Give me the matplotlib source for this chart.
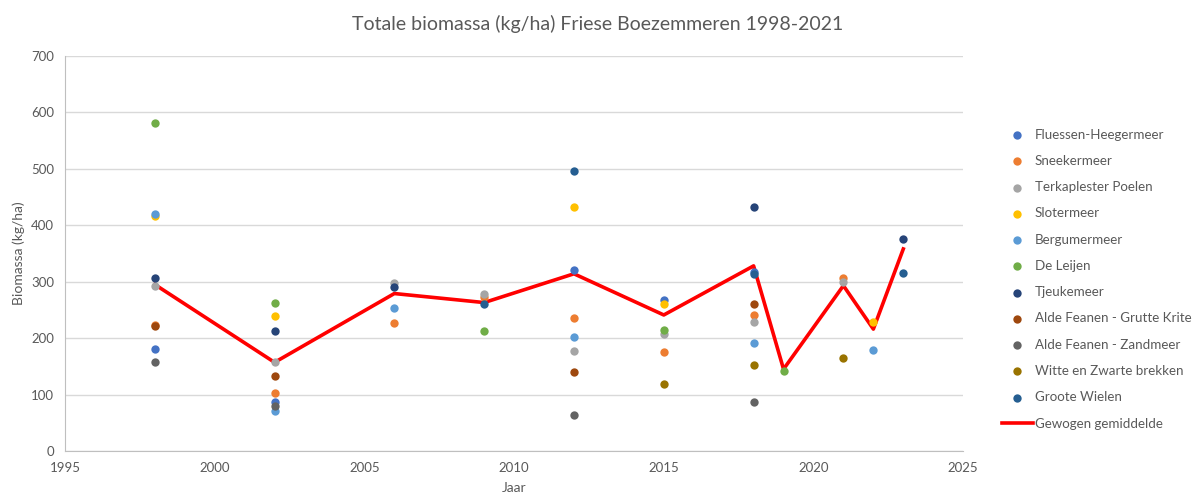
import matplotlib.pyplot as plt
import numpy as np

lakes = [
    "Fluessen-Heegermeer", "Sneekermeer", "Terkaplester Poelen", "Slotermeer",
    "Bergumermeer", "De Leijen", "Tjeukemeer", "Alde Feanen - Grutte Krite",
    "Alde Feanen - Zandmeer", "Witte en Zwarte brekken", "Groote Wielen",
]
colors = [
    "#4472C4", "#ED7D31", "#A5A5A5", "#FFC000", "#5B9BD5", "#70AD47",
    "#264478", "#9E480E", "#636363", "#997300", "#255E91",
]

fluessen_x = [1998, 2002, 2012, 2015, 2018]
fluessen_y = [181, 87, 321, 268, 318]
sneek_x = [1998, 2002, 2006, 2009, 2012, 2015, 2018, 2021]
sneek_y = [224, 102, 227, 273, 235, 175, 241, 306]
terkaple_x = [1998, 2002, 2006, 2009, 2012, 2015, 2018, 2021]
terkaple_y = [292, 157, 297, 278, 177, 208, 229, 299]
sloter_x = [1998, 2002, 2012, 2015, 2022]
sloter_y = [417, 239, 432, 261, 229]
bergum_x = [1998, 2002, 2006, 2012, 2018, 2022]
bergum_y = [420, 70, 254, 202, 192, 179]
leijen_x = [1998, 2002, 2009, 2015, 2019]
leijen_y = [582, 262, 212, 214, 142]
tjeuke_x = [1998, 2002, 2006, 2018, 2023]
tjeuke_y = [307, 213, 291, 432, 375]
grutte_x = [1998, 2002, 2012, 2018]
grutte_y = [221, 132, 140, 261]
zandmeer_x = [1998, 2002, 2012, 2018]
zandmeer_y = [157, 80, 64, 87]
witte_x = [2015, 2018, 2021]
witte_y = [119, 152, 165]
groote_x = [2009, 2012, 2018, 2023]
groote_y = [260, 496, 313, 316]

series_x = [fluessen_x, sneek_x, terkaple_x, sloter_x, bergum_x, leijen_x,
            tjeuke_x, grutte_x, zandmeer_x, witte_x, groote_x]
series_y = [fluessen_y, sneek_y, terkaple_y, sloter_y, bergum_y, leijen_y,
            tjeuke_y, grutte_y, zandmeer_y, witte_y, groote_y]

# gewogen gemiddelde
mean_x = [1998, 2002, 2006, 2009, 2012, 2015, 2018, 2019, 2021, 2022, 2023]
mean_y = [295, 157, 279, 263, 314, 241, 328, 145, 293, 216, 358]

plt.rcParams['font.family'] = ['Lato', 'DejaVu Sans']
txt = "#595959"

fig = plt.figure(figsize=(11.95, 4.97), dpi=100)
ax = fig.add_axes([0.0544, 0.0926, 0.7516, 0.7948])

ax.plot(mean_x, mean_y, color="#FF0000", lw=2.6, zorder=2, label="Gewogen gemiddelde")
for name, c, xs, ys in zip(lakes, colors, series_x, series_y):
    ax.scatter(xs, ys, s=36, color=c, zorder=3, label=name, linewidths=0)

ax.set_xlim(1995, 2025)
ax.set_ylim(0, 700)
ax.set_xticks(np.arange(1995, 2026, 5))
ax.set_yticks(np.arange(0, 701, 100))
ax.yaxis.grid(True, color="#D9D9D9", lw=1)
ax.set_axisbelow(True)
ax.tick_params(length=0, labelsize=9.5, colors=txt, pad=8)
for s in ["top", "right"]:
    ax.spines[s].set_visible(False)
for s in ["left", "bottom"]:
    ax.spines[s].set_color("#BFBFBF")

ax.set_xlabel("Jaar", fontsize=10, color=txt, labelpad=6)
ax.set_ylabel("Biomassa (kg/ha)", fontsize=10, color=txt, labelpad=4)
fig.suptitle("Totale biomassa (kg/ha) Friese Boezemmeren 1998-2021",
             fontsize=14, color=txt, y=0.97)

handles, labels = ax.get_legend_handles_labels()
handles = handles[1:] + handles[:1]
labels = labels[1:] + labels[:1]
leg = fig.legend(handles, labels, loc="upper left", bbox_to_anchor=(0.834, 0.752),
                 frameon=False, fontsize=9.6, labelspacing=1.07, handlelength=2.3,
                 handletextpad=0.15, borderaxespad=0)
for t in leg.get_texts():
    t.set_color(txt)

fig.savefig("out.png", dpi=100)
